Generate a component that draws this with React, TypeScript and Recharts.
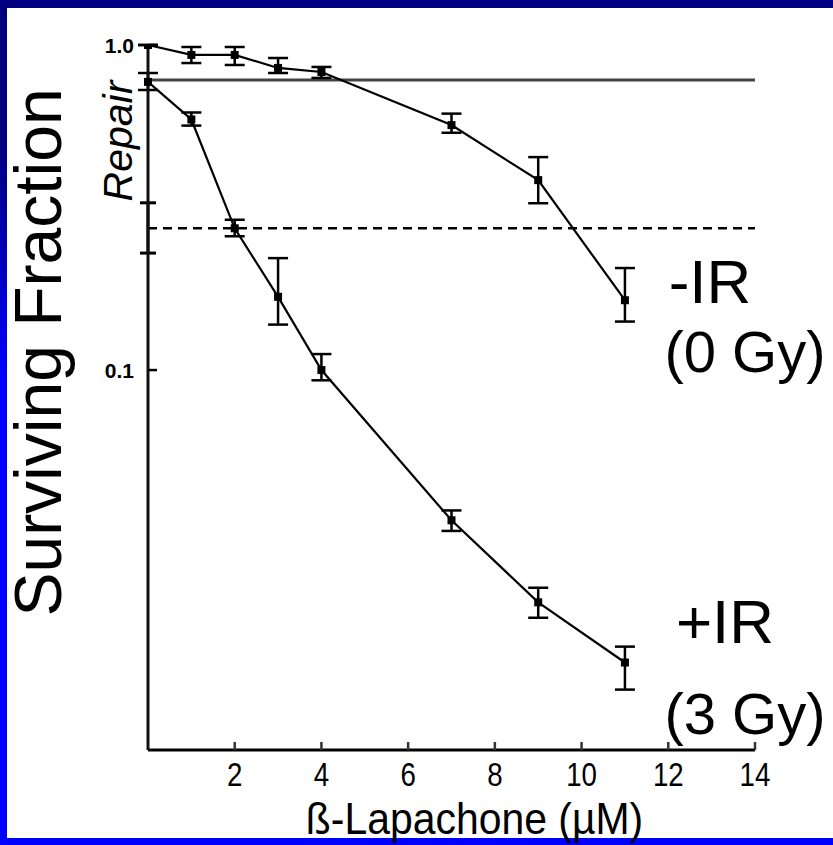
import React from "react";
import { ComposedChart, Line, Scatter, XAxis, YAxis, ErrorBar, ReferenceLine, Label } from "recharts";

// beta-lapachone dose (uM)
const doses = [0, 1, 2, 3, 4, 7, 9, 11];
const xTicks = [2, 4, 6, 8, 10, 12, 14];
const yTicks = [0.1, 1];

// -IR (0 Gy)
const noIrSurvival = [1.0, 0.932, 0.932, 0.85, 0.826, 0.567, 0.384, 0.164];
const noIrHigh = [1.0, 0.986, 0.986, 0.912, 0.856, 0.615, 0.452, 0.206];
const noIrLow = [1.0, 0.88, 0.868, 0.82, 0.792, 0.537, 0.326, 0.141];

// +IR (3 Gy)
const irSurvival = [0.77, 0.59, 0.273, 0.168, 0.1, 0.0345, 0.0193, 0.0126];
const irHigh = [0.82, 0.62, 0.29, 0.221, 0.112, 0.037, 0.0214, 0.0141];
const irLow = [0.727, 0.565, 0.258, 0.138, 0.093, 0.032, 0.0173, 0.0104];

// reference levels
const irAloneLevel = 0.78;
const repairLevel = 0.273;
const repairHigh = 0.327;
const repairLow = 0.229;

const FONT = "'Liberation Sans', Arial, sans-serif";

const rows = doses.map((dose, i) => ({
  dose,
  minus: noIrSurvival[i],
  minusErr: [noIrSurvival[i] - noIrLow[i], noIrHigh[i] - noIrSurvival[i]],
  plus: irSurvival[i],
  plusErr: [irSurvival[i] - irLow[i], irHigh[i] - irSurvival[i]],
}));

const repairRows = [{ dose: 0, level: repairLevel, err: [repairLevel - repairLow, repairHigh - repairLevel] }];

const SquareDot = (props: any) => {
  const { cx, cy } = props;
  if (cx == null || cy == null) return <g />;
  return <rect x={cx - 4} y={cy - 4} width={8} height={8} fill="#000" />;
};

// tick labels in the original are a condensed face, so squeeze them a bit
const XTick = ({ x, y, payload }: any) => (
  <g>
    <line x1={x} x2={x} y1={y} y2={y - 8} stroke="#333" strokeWidth={2.5} />
    <text
      transform={`translate(${x}, ${y + 36}) scale(0.84, 1)`}
      textAnchor="middle"
      fontFamily={FONT}
      fontSize={33}
      fill="#000"
    >
      {payload.value}
    </text>
  </g>
);

const YTick = ({ x, y, payload }: any) => (
  <g>
    <line x1={x} x2={x + 9} y1={y} y2={y} stroke="#000" strokeWidth={2.5} />
    <text x={x - 14} y={y} dy="0.36em" textAnchor="end" fontFamily={FONT} fontWeight="bold" fontSize={21} fill="#000">
      {payload.value === 1 ? "1.0" : "0.1"}
    </text>
  </g>
);

export default function App() {
  return (
    <div
      style={{
        position: "fixed",
        left: 0,
        top: 0,
        width: 833,
        height: 845,
        background: "linear-gradient(#000080 0%, #000080 18%, #0000ff 45%, #0000ff 100%)",
      }}
    >
      <div style={{ position: "absolute", left: 7, top: 8, width: 826, height: 830, background: "#fff" }} />
      <div style={{ position: "absolute", left: 0, top: 0 }}>
        <ComposedChart width={833} height={845} data={rows} margin={{ top: 45, right: 78, bottom: 0, left: 0 }}>
          <XAxis
            type="number"
            dataKey="dose"
            domain={[0, 14]}
            ticks={xTicks}
            height={95}
            tickSize={0}
            tickMargin={0}
            tick={XTick}
            tickLine={false}
            axisLine={{ stroke: "#000", strokeWidth: 3 }}
          >
            <Label
              content={(p: any) => {
                const vb = p.viewBox;
                return (
                  <text
                    transform={`translate(${vb.x + vb.width / 2 + 23}, ${vb.y + 84}) scale(0.93, 1)`}
                    textAnchor="middle"
                    fontFamily={FONT}
                    fontSize={44}
                    fill="#000"
                  >
                    ß-Lapachone (µM)
                  </text>
                );
              }}
            />
          </XAxis>
          <YAxis
            type="number"
            scale="log"
            domain={[0.00678, 1]}
            allowDataOverflow
            ticks={yTicks}
            width={148}
            tickSize={0}
            tickMargin={0}
            tick={YTick}
            tickLine={false}
            axisLine={{ stroke: "#111", strokeWidth: 3 }}
          >
            <Label
              content={(p: any) => {
                const vb = p.viewBox;
                const cy = vb.y + vb.height / 2 - 45;
                return (
                  <text
                    transform={`translate(61, ${cy}) rotate(-90)`}
                    textAnchor="middle"
                    fontFamily={FONT}
                    fontSize={66}
                    fill="#000"
                  >
                    Surviving Fraction
                  </text>
                );
              }}
            />
          </YAxis>
          <ReferenceLine y={irAloneLevel} stroke="#444" strokeWidth={3} />
          <ReferenceLine y={repairLevel} stroke="#000" strokeWidth={2.5} strokeDasharray="9 6" />
          <Line
            type="linear"
            dataKey="minus"
            stroke="#000"
            strokeWidth={2.2}
            dot={SquareDot}
            isAnimationActive={false}
          >
            <ErrorBar dataKey="minusErr" width={10} stroke="#000" strokeWidth={2.5} direction="y" />
          </Line>
          <Line
            type="linear"
            dataKey="plus"
            stroke="#000"
            strokeWidth={2.2}
            dot={SquareDot}
            isAnimationActive={false}
          >
            <ErrorBar dataKey="plusErr" width={10} stroke="#000" strokeWidth={2.5} direction="y" />
          </Line>
          <Scatter data={repairRows} dataKey="level" shape={() => <g />} isAnimationActive={false}>
            <ErrorBar dataKey="err" width={8} stroke="#000" strokeWidth={3} direction="y" />
          </Scatter>
        </ComposedChart>
      </div>
      <svg width={833} height={845} style={{ position: "absolute", left: 0, top: 0, pointerEvents: "none" }}>
        <text
          transform="translate(132, 141) rotate(-90)"
          textAnchor="middle"
          fontFamily={FONT}
          fontStyle="italic"
          fontSize={41}
          fill="#000"
        >
          Repair
        </text>
        <text x={710} y={303} textAnchor="middle" fontFamily={FONT} fontSize={62} fill="#000">
          -IR
        </text>
        <text x={745} y={372} textAnchor="middle" fontFamily={FONT} fontSize={58} fill="#000">
          (0 Gy)
        </text>
        <text x={725} y={643} textAnchor="middle" fontFamily={FONT} fontSize={62} fill="#000">
          +IR
        </text>
        <text x={745} y={734} textAnchor="middle" fontFamily={FONT} fontSize={58} fill="#000">
          (3 Gy)
        </text>
      </svg>
    </div>
  );
}
